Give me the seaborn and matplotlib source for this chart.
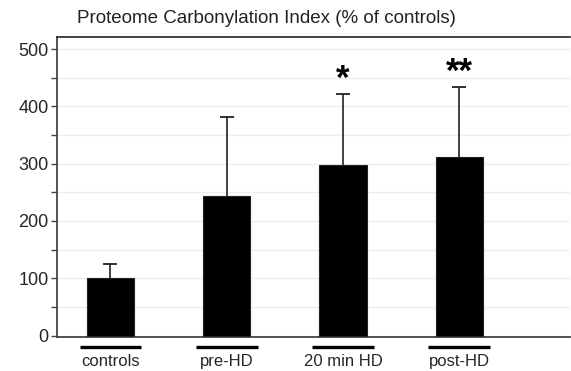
import matplotlib
matplotlib.use("Agg")
import matplotlib.pyplot as plt
import seaborn as sns
import pandas as pd
from matplotlib.ticker import MultipleLocator

# values
groups = ['controls', 'pre-HD', '20 min HD', 'post-HD']
means = [101, 243, 297, 311]
sd_up = [23, 139, 125, 123]
stars = ['', '', '*', '**']

sns.set_style('white')
plt.rcParams['font.family'] = ['Liberation Sans', 'DejaVu Sans']

df = pd.DataFrame({'group': groups, 'value': means})

fig = plt.figure(figsize=(5.71, 3.71), dpi=100)
ax = fig.add_axes([0.0998, 0.0916, 0.898, 0.8087])

sns.barplot(data=df, x='group', y='value', color='black', width=0.405,
            edgecolor='#222222', linewidth=0.8, errorbar=None, ax=ax, zorder=3)

# one-sided error bars: stem plus top cap only
xs = list(range(len(groups)))
tops = [m + s for m, s in zip(means, sd_up)]
ax.vlines(xs, means, tops, color='#222222', linewidth=1.2, zorder=2)
ax.plot(xs, tops, linestyle='none', marker='_', markersize=10,
        markeredgewidth=1.3, color='#222222', zorder=2)

for i, s in enumerate(stars):
    if s:
        ax.text(i, tops[i] - 4, s, ha='center', va='bottom',
                fontsize=25, fontweight='bold', color='black')

ax.set_xlim(-0.46, 3.95)
ax.set_ylim(-2.6, 521)
ax.yaxis.set_major_locator(MultipleLocator(100))
ax.yaxis.set_minor_locator(MultipleLocator(50))
ax.set_yticks([0, 100, 200, 300, 400, 500])
ax.grid(axis='y', which='both', color='#eeeeee', linewidth=1, zorder=0)
ax.set_axisbelow(True)

ax.tick_params(axis='y', which='both', direction='out', left=True, length=4,
               width=1, color='#444444', labelsize=13, pad=2)
ax.tick_params(axis='x', bottom=False, labelsize=12, pad=9)
ax.set_xlabel('')
ax.set_ylabel('')

for side in ['left', 'bottom']:
    ax.spines[side].set_color('#444444')
    ax.spines[side].set_linewidth(1.3)
ax.spines['top'].set_color('#222222')
ax.spines['top'].set_linewidth(1.2)
ax.spines['right'].set_visible(False)

# black underline bars below the x axis
trans = ax.get_xaxis_transform()
for i in xs:
    ax.plot([i - 0.265, i + 0.265], [-0.034, -0.034], color='black',
            linewidth=2.4, transform=trans, clip_on=False, solid_capstyle='butt')

fig.text(0.466, 0.951, 'Proteome Carbonylation Index (% of controls)',
         ha='center', va='center', fontsize=13.5, color='#222222')

fig.savefig('out.png', dpi=100)
